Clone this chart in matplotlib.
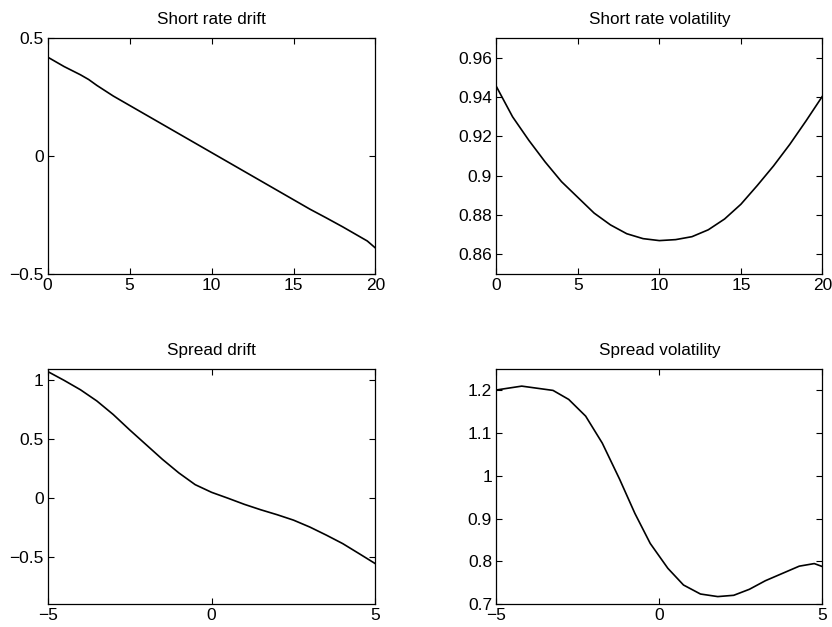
import matplotlib
matplotlib.use("Agg")
import matplotlib.pyplot as plt
from matplotlib.ticker import FuncFormatter

plt.rcParams['font.family'] = ['Liberation Sans', 'DejaVu Sans']

# Short rate drift
x_srd = [0, 1, 2, 2.5, 3, 4, 5, 6, 7, 8, 9, 10, 11, 12, 13, 14, 15, 16, 17, 18, 19, 19.5, 20]
y_srd = [0.42, 0.38, 0.345, 0.325, 0.30, 0.255, 0.215, 0.175, 0.135, 0.095, 0.055, 0.015,
         -0.025, -0.065, -0.105, -0.145, -0.185, -0.225, -0.262, -0.30, -0.34, -0.36, -0.39]

# Short rate volatility
x_srv = list(range(0, 21))
y_srv = [0.9455, 0.930, 0.918, 0.907, 0.897, 0.889, 0.881, 0.875, 0.8705, 0.868, 0.867,
         0.8675, 0.869, 0.8725, 0.878, 0.8855, 0.895, 0.905, 0.916, 0.928, 0.9405]

# Spread drift
x_sd = [-5, -4.5, -4, -3.5, -3, -2.5, -2, -1.5, -1, -0.5, 0, 0.5, 1, 1.5, 2, 2.5, 3, 3.5, 4, 4.5, 5]
y_sd = [1.075, 1.00, 0.92, 0.825, 0.71, 0.58, 0.455, 0.33, 0.215, 0.115, 0.05, 0.0, -0.052,
        -0.098, -0.14, -0.186, -0.245, -0.313, -0.385, -0.47, -0.556]

# Spread volatility
x_sv = [-5, -4.22, -3.26, -2.78, -2.26, -1.75, -1.22, -0.75, -0.28, 0.26, 0.74, 1.26,
        1.79, 2.28, 2.76, 3.25, 4.29, 4.75, 5]
y_sv = [1.200, 1.209, 1.199, 1.178, 1.139, 1.076, 0.992, 0.912, 0.842, 0.784, 0.745,
        0.724, 0.718, 0.721, 0.735, 0.755, 0.789, 0.795, 0.788]

titles = ["Short rate drift", "Short rate volatility", "Spread drift", "Spread volatility"]

fig = plt.figure(figsize=(8.32, 6.27), dpi=100)

W = 0.394
W2 = 0.392
H = 0.376
boxes = [
    (0.0573, 0.563, W, H),
    (0.5965, 0.563, W2, H),
    (0.0573, 0.0362, W, H),
    (0.5965, 0.0362, W2, H),
]

xs = [x_srd, x_srv, x_sd, x_sv]
ys = [y_srd, y_srv, y_sd, y_sv]
xlims = [(0, 20), (0, 20), (-5, 5), (-5, 5)]
ylims = [(-0.5, 0.5), (0.85, 0.97), (-0.9, 1.1), (0.7, 1.25)]
xticks = [[0, 5, 10, 15, 20], [0, 5, 10, 15, 20], [-5, 0, 5], [-5, 0, 5]]
yticks = [[-0.5, 0, 0.5], [0.86, 0.88, 0.90, 0.92, 0.94, 0.96],
          [-0.5, 0, 0.5, 1], [0.7, 0.8, 0.9, 1.0, 1.1, 1.2]]

fmt = FuncFormatter(lambda v, p: ('%g' % round(v, 6)).replace('-', '\u2212'))

for i in range(4):
    ax = fig.add_axes(boxes[i])
    ax.plot(xs[i], ys[i], color='black', lw=1.2)
    ax.set_xlim(*xlims[i])
    ax.set_ylim(*ylims[i])
    ax.set_xticks(xticks[i])
    ax.set_yticks(yticks[i])
    ax.xaxis.set_major_formatter(fmt)
    ax.yaxis.set_major_formatter(fmt)
    ax.tick_params(direction='in', length=4, width=0.8, top=True, right=True,
                   labelsize=12.5, pad=3, colors='black')
    for s in ax.spines.values():
        s.set_linewidth(0.9)
    ax.set_title(titles[i], fontsize=12.3, pad=10)

fig.savefig("out.png", dpi=100)
